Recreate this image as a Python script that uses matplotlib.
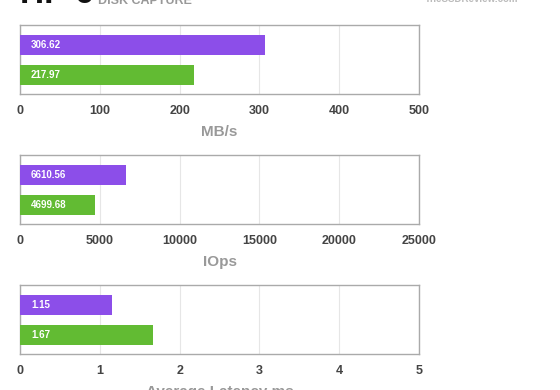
import matplotlib.pyplot as plt

plt.rcParams['font.family'] = ['Liberation Sans', 'DejaVu Sans']

# dati
serie = ['A', 'B']
colori = ['#8c4ee9', '#62bb33']
mbs = [306.62, 217.97]
iops = [6610.56, 4699.68]
latenza = [1.15, 1.67]

pannelli = [
    (mbs, 'MB/s', 500, [0, 100, 200, 300, 400, 500], ['306.62', '217.97']),
    (iops, 'IOps', 25000, [0, 5000, 10000, 15000, 20000, 25000], ['6610.56', '4699.68']),
    (latenza, 'Average Latency ms', 5, [0, 1, 2, 3, 4, 5], ['1.15', '1.67']),
]

fig = plt.figure(figsize=(5.6, 3.9), dpi=100)

# titolo tagliato in alto
fig.text(20/560, 1 + 21/390, 'HP 6', fontsize=24, fontweight='bold', color='#111111', va='top')
fig.text(98/560, 1 + 5/390, 'DISK CAPTURE', fontsize=9, fontweight='bold', color='#999999', va='top')
fig.text(425/560, 1 + 6/390, 'TheSSDReview.com', fontsize=7, fontweight='bold', color='#bbbbbb', va='top')

basi = [1 - 94/390, 1 - 224/390, 1 - 354/390]
for (valori, etichetta, xmax, ticks, testi), b in zip(pannelli, basi):
    ax = fig.add_axes([20/560, b, 399/560, 69/390])
    ax.barh([0, 1], valori, height=0.68, color=colori, zorder=3)
    ax.set_xlim(0, xmax)
    ax.set_ylim(1.66, -0.68)
    ax.set_yticks([])
    ax.set_xticks(ticks)
    ax.set_xticklabels([str(t) for t in ticks])
    ax.tick_params(axis='x', length=0, pad=8, labelsize=9, labelcolor='#444444')
    for lab in ax.get_xticklabels():
        lab.set_fontweight('bold')
    ax.grid(axis='x', color='#e6e6e6', linewidth=0.8, zorder=0)
    for s in ax.spines.values():
        s.set_color('#aaaaaa')
        s.set_linewidth(1)
    ax.set_xlabel(etichetta, fontsize=11, fontweight='bold', color='#999999', labelpad=6)
    for i, t in enumerate(testi):
        ax.annotate(t, (0, i), xytext=(8, 0), textcoords='offset points',
                    color='white', fontsize=7, fontweight='bold', va='center', zorder=4)

plt.savefig('out.png', dpi=100)
